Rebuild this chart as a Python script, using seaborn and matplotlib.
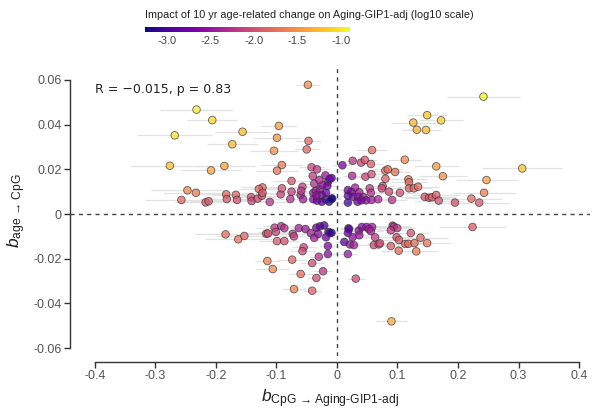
import numpy as np
import pandas as pd
import matplotlib
matplotlib.use("Agg")
import matplotlib.pyplot as plt
import seaborn as sns

# ---- data ----
b_cpg = [
    -0.048, -0.232, -0.206, -0.096, -0.156, -0.268, -0.099, -0.047, -0.173, -0.050,
    -0.104, 0.058, -0.091, -0.276, -0.186, -0.208, -0.099, -0.042, -0.033, 0.009,
    0.026, 0.040, 0.046, 0.056, 0.080, 0.084, -0.040, -0.019, -0.009, -0.0375,
    -0.015, -0.075, -0.057, -0.123, -0.129, -0.247, -0.233, -0.257, -0.217, -0.212,
    -0.183, -0.182, -0.167, -0.165, -0.142, -0.141, -0.131, -0.124, -0.123, -0.111,
    -0.093, -0.091, -0.077, -0.075, -0.060, -0.059, -0.056, -0.039, -0.035, -0.028,
    -0.024, -0.016, -0.039, -0.033, -0.025, -0.019, -0.013, -0.008, -0.025, -0.018,
    -0.034, -0.029, -0.012, 0.112, 0.096, 0.164, 0.175, 0.306, 0.247, 0.243,
    0.025, 0.047, 0.057, 0.118, 0.119, 0.0755, 0.030, 0.054, 0.119, 0.127,
    0.134, 0.074, 0.086, 0.104, 0.018, 0.024, 0.037, 0.018, 0.027, 0.035,
    0.044, 0.056, 0.068, 0.057, 0.048, 0.040, 0.034, 0.018, -0.009, 0.091,
    0.145, 0.152, 0.157, 0.164, 0.168, 0.195, 0.222, 0.235, 0.242, 0.149,
    0.172, 0.126, 0.132, 0.147, 0.080,
    # lower half
    -0.184, -0.163, -0.153, -0.117, -0.114, -0.103, -0.101, -0.092, -0.087, -0.099,
    -0.087, -0.073, -0.071, -0.063, -0.052, -0.043, -0.0375, -0.031, -0.034, -0.028,
    -0.021, -0.014, -0.012, -0.018, -0.015, -0.015, -0.055, -0.057, -0.030, -0.041,
    -0.074, -0.115, -0.106, -0.023, -0.060, -0.034, -0.071, -0.041,
    -0.009, 0.019, 0.020, 0.018, 0.012, 0.0215, 0.028, 0.026, 0.036, 0.037,
    0.041, 0.049, 0.058, 0.053, 0.056, 0.063, 0.061, 0.069, 0.071, 0.018,
    0.031, 0.092, 0.094, 0.0995, 0.089, 0.122, 0.0985, 0.1025, 0.089, 0.113,
    0.118, 0.128, 0.138, 0.149, 0.102, 0.131, 0.224, 0.090,
]
b_age = [
    0.0578, 0.0467, 0.0420, 0.0394, 0.0368, 0.0352, 0.0341, 0.0327, 0.0312, 0.0289,
    0.0283, 0.0286, 0.0219, 0.0216, 0.0215, 0.0195, 0.0194, 0.0209, 0.0200, 0.0218,
    0.0238, 0.0230, 0.0242, 0.0224, 0.0194, 0.0200, 0.0170, 0.0173, 0.0161, 0.0136,
    0.0143, 0.0148, 0.0122, 0.0119, 0.0112, 0.0106, 0.0095, 0.0063, 0.0052, 0.0057,
    0.0088, 0.0067, 0.0086, 0.0063, 0.0075, 0.0058, 0.0069, 0.0082, 0.0095, 0.0054,
    0.0088, 0.0115, 0.0067, 0.0100, 0.0085, 0.0104, 0.0066, 0.0095, 0.0104, 0.0110,
    0.0130, 0.0125, 0.0066, 0.0060, 0.0055, 0.0066, 0.0055, 0.0070, 0.0085, 0.0095,
    0.0083, 0.0152, 0.0157, 0.0243, 0.0188, 0.0213, 0.0169, 0.0204, 0.0152, 0.0095,
    0.0171, 0.0167, 0.0178, 0.0155, 0.0142, 0.0125, 0.0118, 0.0115, 0.0115, 0.0115,
    0.0122, 0.0115, 0.0100, 0.0095, 0.0107, 0.0098, 0.0097, 0.0082, 0.0077, 0.0077,
    0.0075, 0.0095, 0.0066, 0.0063, 0.0061, 0.0061, 0.0055, 0.0051, 0.0067, 0.0063,
    0.0077, 0.0073, 0.0075, 0.0085, 0.0060, 0.0051, 0.0069, 0.0051, 0.0525, 0.0442,
    0.0419, 0.0409, 0.0377, 0.0376, 0.0158,
    # lower half
    -0.0091, -0.0113, -0.0098, -0.0088, -0.0087, -0.0061, -0.0080, -0.0054, -0.0063, -0.0121,
    -0.0121, -0.0089, -0.0100, -0.0063, -0.0067, -0.0086, -0.0107, -0.0089, -0.0061, -0.0055,
    -0.0051, -0.0080, -0.0085, -0.0104, -0.0143, -0.0179, -0.0149, -0.0166, -0.0191, -0.0219,
    -0.0204, -0.0210, -0.0246, -0.0256, -0.0268, -0.0286, -0.0336, -0.0343,
    -0.0084, -0.0064, -0.0068, -0.0084, -0.0125, -0.0136, -0.0139, -0.0103, -0.0075, -0.0095,
    -0.0058, -0.0058, -0.0058, -0.0068, -0.0077, -0.0104, -0.0139, -0.0136, -0.0131, -0.0179,
    -0.0289, -0.0052, -0.0057, -0.0063, -0.0073, -0.0085, -0.0104, -0.0116, -0.0143, -0.0134,
    -0.0133, -0.0130, -0.0106, -0.0130, -0.0164, -0.0167, -0.0058, -0.0480,
]
b_cpg_ci = [
    0.020, 0.060, 0.041, 0.030, 0.045, 0.062, 0.040, 0.020, 0.042, 0.020,
    0.040, 0.025, 0.035, 0.066, 0.050, 0.050, 0.035, 0.020, 0.020, 0.015,
    0.020, 0.020, 0.020, 0.020, 0.025, 0.025, 0.015, 0.015, 0.015, 0.015,
    0.015, 0.030, 0.020, 0.035, 0.035, 0.060, 0.055, 0.060, 0.050, 0.050,
    0.045, 0.045, 0.040, 0.040, 0.040, 0.035, 0.035, 0.035, 0.035, 0.030,
    0.030, 0.030, 0.025, 0.025, 0.020, 0.020, 0.020, 0.015, 0.015, 0.015,
    0.015, 0.015, 0.015, 0.015, 0.015, 0.015, 0.015, 0.015, 0.015, 0.015,
    0.015, 0.015, 0.015, 0.027, 0.025, 0.037, 0.040, 0.066, 0.050, 0.052,
    0.015, 0.020, 0.020, 0.030, 0.030, 0.020, 0.015, 0.020, 0.030, 0.030,
    0.035, 0.020, 0.025, 0.030, 0.015, 0.015, 0.015, 0.015, 0.015, 0.015,
    0.015, 0.020, 0.020, 0.020, 0.015, 0.015, 0.015, 0.015, 0.015, 0.025,
    0.040, 0.040, 0.040, 0.040, 0.040, 0.045, 0.050, 0.050, 0.060, 0.033,
    0.036, 0.037, 0.025, 0.025, 0.020,
    # lower half
    0.050, 0.055, 0.045, 0.035, 0.035, 0.030, 0.030, 0.030, 0.030, 0.030,
    0.025, 0.025, 0.025, 0.020, 0.020, 0.015, 0.015, 0.015, 0.015, 0.015,
    0.015, 0.015, 0.015, 0.015, 0.015, 0.015, 0.020, 0.020, 0.015, 0.020,
    0.025, 0.020, 0.027, 0.015, 0.020, 0.015, 0.020, 0.015,
    0.015, 0.015, 0.015, 0.015, 0.015, 0.015, 0.015, 0.015, 0.015, 0.015,
    0.020, 0.020, 0.020, 0.020, 0.020, 0.020, 0.020, 0.020, 0.020, 0.015,
    0.015, 0.030, 0.030, 0.030, 0.025, 0.030, 0.025, 0.030, 0.025, 0.030,
    0.030, 0.030, 0.045, 0.040, 0.030, 0.035, 0.055, 0.025,
]
x_ticks = [-0.4, -0.3, -0.2, -0.1, 0.0, 0.1, 0.2, 0.3, 0.4]
x_tick_labels = ["-0.4", "-0.3", "-0.2", "-0.1", "0", "0.1", "0.2", "0.3", "0.4"]
y_ticks = [-0.06, -0.04, -0.02, 0.0, 0.02, 0.04, 0.06]
y_tick_labels = ["-0.06", "-0.04", "-0.02", "0", "0.02", "0.04", "0.06"]
cbar_ticks = [-3.0, -2.5, -2.0, -1.5, -1.0]
cbar_tick_labels = ["-3.0", "-2.5", "-2.0", "-1.5", "-1.0"]
stat_text = "R = \u22120.015, p = 0.83"
cbar_title = "Impact of 10 yr age-related change on Aging-GIP1-adj (log10 scale)"

df = pd.DataFrame({"bx": b_cpg, "by": b_age, "ci": b_cpg_ci})
# impact of a 10-year change: log10(|b_age * 10 * b_CpG|)
df["impact"] = np.log10(np.abs(df["bx"] * df["by"]) * 10)
vmin, vmax = df["impact"].min(), df["impact"].max()

sns.set_style("white")
plt.rcParams["font.family"] = ["Liberation Sans", "DejaVu Sans"]
plt.rcParams["mathtext.fontset"] = "custom"
plt.rcParams["mathtext.rm"] = "Liberation Sans"
plt.rcParams["mathtext.it"] = "Liberation Sans:italic"
plt.rcParams["mathtext.bf"] = "Liberation Sans:bold"

W, H = 592, 411
fig = plt.figure(figsize=(W / 100, H / 100), dpi=100)
ax = fig.add_axes([70 / W, 1 - 356 / H, 520 / W, 290 / H])

# CI lines
for _, r in df.iterrows():
    ax.plot([r.bx - r.ci, r.bx + r.ci], [r.by, r.by], color="#e2e2e2", lw=0.9,
            zorder=1, solid_capstyle="butt")

ax.axhline(0, color="#444444", lw=1.0, ls=(0, (3, 3)), zorder=2)
ax.axvline(0, color="#444444", lw=1.0, ls=(0, (3, 3)), zorder=2)

cmap = plt.get_cmap("plasma")
sns.scatterplot(data=df, x="bx", y="by", hue="impact", palette="plasma",
                hue_norm=(vmin, vmax), legend=False, s=30, alpha=0.75,
                edgecolor="#333333", linewidth=0.6, ax=ax, zorder=3)

ax.set_xlim(-0.441, 0.418)
ax.set_ylim(-0.0635, 0.0662)

ax.set_xticks(x_ticks)
ax.set_xticklabels(x_tick_labels)
ax.set_yticks(y_ticks)
ax.set_yticklabels(y_tick_labels)

for s in ["top", "right"]:
    ax.spines[s].set_visible(False)
ax.spines["left"].set_bounds(-0.06, 0.06)
ax.spines["bottom"].set_bounds(-0.4, 0.4)
ax.spines["bottom"].set_position(("outward", 4.3))
for s in ["left", "bottom"]:
    ax.spines[s].set_color("#333333")
    ax.spines[s].set_linewidth(1.0)

ax.tick_params(axis="both", which="major", direction="out", length=4, width=1.0,
               color="#333333", labelcolor="#555555", labelsize=9,
               bottom=True, left=True, pad=2)

ax.set_xlabel("$\\mathit{b}_{\\mathrm{CpG\\ \u2192\\ Aging\u2010GIP1\u2010adj}}$",
              fontsize=12.5, color="#222222", labelpad=4)
ax.set_ylabel("$\\mathit{b}_{\\mathrm{age\\ \u2192\\ CpG}}$",
              fontsize=12.5, color="#222222", labelpad=4)

ax.text(-0.4, 0.0559, stat_text, fontsize=9, family="DejaVu Sans",
        color="#222222", ha="left", va="center")

# colorbar
cax = fig.add_axes([145 / W, 1 - 32 / H, 205 / W, 5 / H])
sm = plt.cm.ScalarMappable(cmap=cmap, norm=plt.Normalize(vmin, vmax))
cb = fig.colorbar(sm, cax=cax, orientation="horizontal")
cb.outline.set_visible(False)
cb.set_ticks(cbar_ticks)
cb.set_ticklabels(cbar_tick_labels)
cax.tick_params(length=0, labelsize=8, labelcolor="#444444", pad=3)
fig.text(145 / W, 1 - 15 / H, cbar_title, fontsize=7.8, color="#222222",
         ha="left", va="center")

fig.savefig("out.png", dpi=100)
